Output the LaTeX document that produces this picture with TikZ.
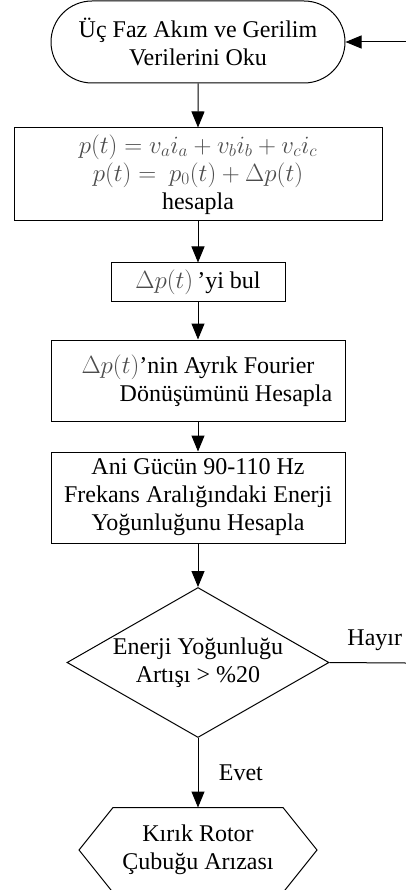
\documentclass[tikz,border=0pt]{standalone}
\usepackage{fontspec}
\setmainfont{Liberation Serif}
\usetikzlibrary{positioning,shapes.geometric,shapes.misc,arrows.meta}
\newcommand{\mat}[1]{{\color{black!70}$#1$}}

\begin{document}
\begin{tikzpicture}[x=1pt, y=1pt, >={Triangle[length=16pt,width=13pt]}, line width=1pt, font=\fontsize{24}{28}\selectfont]
                \tikzstyle{term} = [draw, rounded rectangle, minimum width=294pt, minimum height=82pt, inner sep=0pt, align=center]
                \tikzstyle{blok} = [draw, rectangle, inner sep=0pt, align=center]
                \tikzstyle{karar} = [draw, diamond, aspect=1.75, minimum width=262pt, minimum height=150pt, inner sep=0pt, align=center]
                \tikzstyle{son} = [rectangle, minimum width=169pt, minimum height=84pt, inner sep=0pt, align=center]
                    \useasboundingbox (0,0) rectangle (406,-890);
                    \node[term] (oku) at (198,-42) {Üç Faz Akım ve Gerilim\\Verilerini Oku};
                    \node[blok, minimum width=368pt, minimum height=93pt, node distance={132.5pt}] (guc) [below of=oku] {\mat{p(t)=v_a i_a + v_b i_b + v_c i_c}\\\mat{p(t)=\ p_0(t)+\Delta p(t)}\\hesapla};
                    \node[blok, minimum width=174pt, minimum height=38pt, node distance={107.5pt}] (fark) [below of=guc] {\mat{\Delta p(t)}\,’yi bul};
                    \node[blok, minimum width=294pt, minimum height=81pt, node distance={98.5pt}] (dft) [below of=fark] {\mat{\Delta p(t)}’nin Ayrık Fourier\\\hspace*{56pt}Dönüşümünü Hesapla};
                    \node[blok, minimum width=294pt, minimum height=91pt, node distance={117pt}] (enerji) [below of=dft] {Ani Gücün 90-110 Hz\\Frekans Aralığındaki Enerji\\Yoğunluğunu Hesapla};
                    \node[karar, node distance={165pt}] (kontrol) [below of=enerji] {Enerji Yoğunluğu\\Artışı > \%20};
                    \node[son, node distance={187.5pt}] (ariza) [below of=kontrol] {Kırık Rotor\\Çubuğu Arızası};
                    \draw (ariza.north west) -- (ariza.north east) -- ([xshift=34pt]ariza.east) -- (ariza.south east) -- (ariza.south west) -- ([xshift=-34pt]ariza.west) -- cycle;
                    \coordinate (sag) at (406,-663);
                    \coordinate (ust) at (406,-42);

                    \draw[->] (oku) to (guc);
                    \draw[->] (guc) to (fark);
                    \draw[->] (fark) to (dft);
                    \draw[->] (dft) to (enerji);
                    \draw[->] (enerji) to (kontrol);
                    \draw[->] (kontrol) to node[anchor=west, xshift=17pt] {Evet} (ariza);
                    \draw (kontrol.east) to node[above, xshift=7pt, yshift=8pt] {Hayır} (sag);
                    \draw[->] (ust) to (oku.east);

                \end{tikzpicture}
\end{document}
